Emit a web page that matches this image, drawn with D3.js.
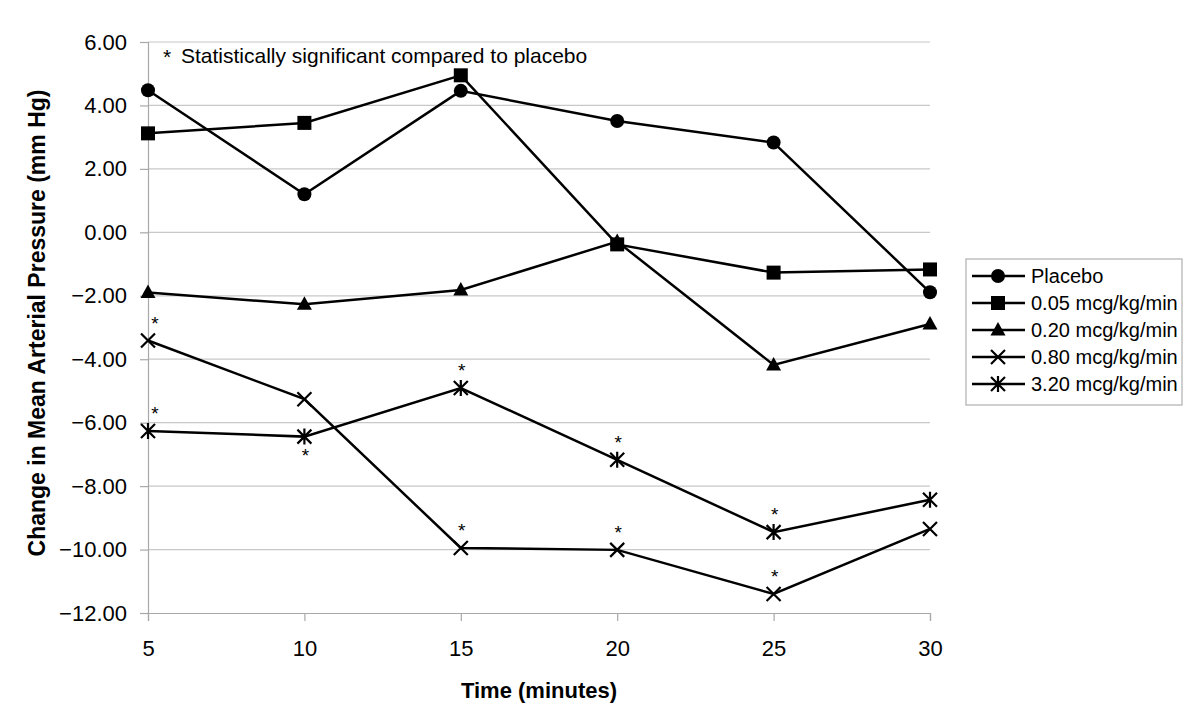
<!DOCTYPE html>
<html><head><meta charset="utf-8">
<script src="https://cdn.jsdelivr.net/npm/d3@7"></script>
<style>
body{margin:0;background:#fff;}
text{font-family:"Liberation Sans",Arial,sans-serif;fill:#000;}
</style></head><body>
<svg id="chart" width="1200" height="716"></svg>
<script>
const times = [5, 10, 15, 20, 25, 30];
const seriesNames = ["Placebo", "0.05 mcg/kg/min", "0.20 mcg/kg/min", "0.80 mcg/kg/min", "3.20 mcg/kg/min"];
const placebo = [4.48, 1.20, 4.46, 3.51, 2.83, -1.89];
const dose005 = [3.12, 3.45, 4.95, -0.38, -1.27, -1.17];
const dose020 = [-1.90, -2.27, -1.82, -0.29, -4.18, -2.89];
const dose080 = [-3.41, -5.26, -9.95, -10.01, -11.40, -9.35];
const dose320 = [-6.26, -6.44, -4.91, -7.17, -9.45, -8.43];
const yTicks = [6, 4, 2, 0, -2, -4, -6, -8, -10, -12];
const xTicks = [5, 10, 15, 20, 25, 30];
const markerTypes = ["circle", "square", "triangle", "x", "asterisk"];
// significance markers: series index, time, placed below point?
const sigSeries = [3, 4, 4, 4, 3, 4, 3, 4, 3];
const sigTimes  = [5, 5, 10, 15, 15, 20, 20, 25, 25];
const sigBelow  = [false, false, true, false, false, false, false, false, false];
const noteText = "Statistically significant compared to placebo";
const xTitle = "Time (minutes)";
const yTitle = "Change in Mean Arterial Pressure (mm Hg)";

const allSeries = [placebo, dose005, dose020, dose080, dose320];

const svg = d3.select("#chart");
const x = d3.scaleLinear().domain([5, 30]).range([148, 930]);
const y = d3.scaleLinear().domain([-12, 6]).range([613, 42]);

// gridlines
svg.append("g").selectAll("line").data(yTicks.filter(d => d !== -12)).join("line")
  .attr("x1", x(5)).attr("x2", x(30))
  .attr("y1", d => y(d)).attr("y2", d => y(d))
  .attr("stroke", "#c8c8c8").attr("stroke-width", 1.2);

// y axis
const yAxis = svg.append("g").attr("transform", `translate(${x(5)},0)`)
  .call(d3.axisLeft(y).tickValues(yTicks).tickFormat(d3.format(".2f")).tickSize(8).tickPadding(13));
yAxis.select(".domain").attr("stroke", "#a8a8a8").attr("stroke-width", 1.2);
yAxis.selectAll(".tick line").attr("stroke", "#a8a8a8").attr("stroke-width", 1.2);
yAxis.selectAll(".tick text").attr("font-size", 22).attr("font-family", "Liberation Sans, Arial, sans-serif").attr("fill", "#000");

// x axis
const xAxis = svg.append("g").attr("transform", `translate(0,${y(-12)})`)
  .call(d3.axisBottom(x).tickValues(xTicks).tickFormat(d3.format("d")).tickSize(8).tickPadding(19));
xAxis.select(".domain").attr("stroke", "#a8a8a8").attr("stroke-width", 1.2);
xAxis.selectAll(".tick line").attr("stroke", "#a8a8a8").attr("stroke-width", 1.2);
xAxis.selectAll(".tick text").attr("font-size", 22).attr("font-family", "Liberation Sans, Arial, sans-serif").attr("fill", "#000");

// axis titles
svg.append("text").attr("x", x(17.5)).attr("y", 698).attr("text-anchor", "middle")
  .attr("font-size", 22).attr("font-weight", "bold").text(xTitle);
svg.append("text").attr("transform", `translate(45,323) rotate(-90)`)
  .attr("text-anchor", "middle").attr("font-size", 23).attr("font-weight", "bold").text(yTitle);

// note
svg.append("text").attr("x", 163).attr("y", 64).attr("font-size", 21).text("*");
svg.append("text").attr("x", 181).attr("y", 63).attr("font-size", 21).text(noteText);

function drawMarker(g, type, cx, cy) {
  const s = 7;
  if (type === "circle") {
    g.append("circle").attr("cx", cx).attr("cy", cy).attr("r", 7).attr("fill", "#000");
  } else if (type === "square") {
    g.append("rect").attr("x", cx - 7).attr("y", cy - 7).attr("width", 14).attr("height", 14).attr("fill", "#000");
  } else if (type === "triangle") {
    g.append("path").attr("d", `M${cx},${cy-8} L${cx+7.5},${cy+5.5} L${cx-7.5},${cy+5.5} Z`).attr("fill", "#000");
  } else if (type === "x") {
    g.append("path").attr("d", `M${cx-s},${cy-s} L${cx+s},${cy+s} M${cx-s},${cy+s} L${cx+s},${cy-s}`)
      .attr("stroke", "#000").attr("stroke-width", 2.2).attr("fill", "none");
  } else if (type === "asterisk") {
    g.append("path").attr("d", `M${cx-s},${cy-s} L${cx+s},${cy+s} M${cx-s},${cy+s} L${cx+s},${cy-s} M${cx},${cy-s-1} L${cx},${cy+s+1}`)
      .attr("stroke", "#000").attr("stroke-width", 2.2).attr("fill", "none");
  }
}

const line = d3.line().x((d, i) => x(times[i])).y(d => y(d));
allSeries.forEach((vals, si) => {
  const g = svg.append("g");
  g.append("path").attr("d", line(vals)).attr("fill", "none").attr("stroke", "#000").attr("stroke-width", 2.5);
  vals.forEach((v, i) => drawMarker(g, markerTypes[si], x(times[i]), y(v)));
});

// significance asterisks
sigSeries.forEach((si, k) => {
  const t = sigTimes[k];
  const v = allSeries[si][times.indexOf(t)];
  const dx = t === 5 ? 7 : 1;
  const cy = y(v) + (sigBelow[k] ? 16 : -20);
  svg.append("text").attr("x", x(t) + dx).attr("y", cy + 9).attr("text-anchor", "middle")
    .attr("font-size", 19).text("*");
});

// legend
const lg = svg.append("g");
lg.append("rect").attr("x", 966).attr("y", 259).attr("width", 216).attr("height", 146)
  .attr("fill", "#fff").attr("stroke", "#b0b0b0").attr("stroke-width", 1.2);
seriesNames.forEach((name, i) => {
  const cy = 276 + i * 27;
  lg.append("line").attr("x1", 972).attr("x2", 1025).attr("y1", cy).attr("y2", cy)
    .attr("stroke", "#000").attr("stroke-width", 2.5);
  drawMarker(lg, markerTypes[i], 998, cy);
  lg.append("text").attr("x", 1031).attr("y", cy + 7).attr("font-size", 20).text(name);
});
</script>
</body></html>
